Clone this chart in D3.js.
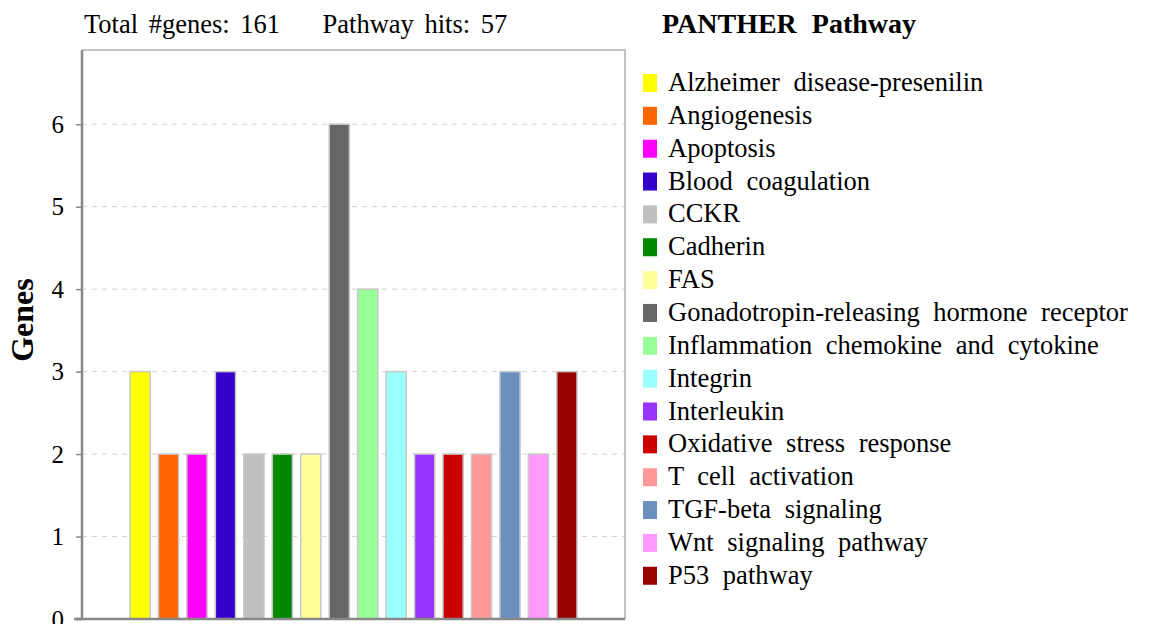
<!DOCTYPE html>
<html><head><meta charset="utf-8">
<script src="https://cdn.jsdelivr.net/npm/d3@7"></script>
<style>
html,body{margin:0;padding:0;background:#fff;}
svg text{font-family:"Liberation Serif","Times New Roman",serif;fill:#000;}
</style></head>
<body>
<svg id="chart" width="1155" height="624"></svg>
<script>
const categories = ["Alzheimer disease-presenilin","Angiogenesis","Apoptosis","Blood coagulation","CCKR","Cadherin","FAS","Gonadotropin-releasing hormone receptor","Inflammation chemokine and cytokine","Integrin","Interleukin","Oxidative stress response","T cell activation","TGF-beta signaling","Wnt signaling pathway","P53 pathway"];
const genes = [3,2,2,3,2,2,2,6,4,3,2,2,2,3,2,3];
const colors = ["#ffff00","#ff6600","#ff00ff","#3300cc","#c0c0c0","#008800","#ffff99","#666666","#99ff99","#99ffff","#9933ff","#cc0000","#ff9999","#6b8fbf","#ff99ff","#990000"];
const yTicks = [0,1,2,3,4,5,6];
const headerText = "Total #genes: 161    Pathway hits: 57";
const legendTitle = "PANTHER Pathway";
const yLabel = "Genes";

const svg = d3.select("#chart");
const L = 82, R = 625, T = 50, B = 619;

const y = d3.scaleLinear().domain([0, 6.9]).range([B, T]);
const x = d3.scaleBand().domain(categories).range([130, 577]).paddingInner(0.29).paddingOuter(0);

// frame top/right
svg.append("path").attr("d", `M${L},${T}H${R}V${B}`).attr("fill","none").attr("stroke","#c2c2c2").attr("stroke-width",2);

// gridlines
svg.append("g").selectAll("line").data(yTicks.filter(d=>d>0)).join("line")
  .attr("x1", L).attr("x2", R).attr("y1", d=>y(d)).attr("y2", d=>y(d))
  .attr("stroke","#d2d2d2").attr("stroke-width",1).attr("stroke-dasharray","5,5");

// bars
svg.append("g").selectAll("rect").data(categories).join("rect")
  .attr("x", d=>x(d)).attr("width", x.bandwidth())
  .attr("y", (d,i)=>y(genes[i])).attr("height", (d,i)=>B - y(genes[i]))
  .attr("fill", (d,i)=>colors[i]).attr("stroke","#c8c8c8").attr("stroke-width",1.5);

// y axis
const yAxis = d3.axisLeft(y).tickValues(yTicks).tickSize(6).tickPadding(12).tickFormat(d3.format("d"));
const ga = svg.append("g").attr("transform", `translate(${L},0)`).call(yAxis);
ga.select(".domain").attr("stroke","#888").attr("stroke-width",2.5).attr("d", `M-6,${B}H0V${T}`);
ga.selectAll(".tick line").attr("stroke","#888").attr("stroke-width",1.5);
ga.selectAll(".tick text").attr("font-size",25).attr("fill","#000");

// bottom axis line
svg.append("line").attr("x1", L-8).attr("x2", R).attr("y1", B).attr("y2", B).attr("stroke","#888").attr("stroke-width",2.5);

// y label
svg.append("text").attr("transform", `translate(33,320) rotate(-90)`)
  .attr("text-anchor","middle").attr("font-size",32).attr("font-weight","bold").text(yLabel);

// header
svg.append("text").attr("x",84).attr("y",33).attr("font-size",26.5).style("white-space","pre").style("word-spacing","4px").text(headerText);
svg.append("text").attr("x",662).attr("y",33).attr("font-size",28).attr("font-weight","bold").style("word-spacing","8px").text(legendTitle);

// legend
const lg = svg.append("g").selectAll("g").data(categories).join("g")
  .attr("transform", (d,i)=>`translate(643,${74 + i*32.85})`);
lg.append("rect").attr("width",14).attr("height",18).attr("fill",(d,i)=>colors[i]);
lg.append("text").attr("x",25).attr("y",17).attr("font-size",26.5).style("word-spacing","7px").text(d=>d);
</script>
</body></html>
